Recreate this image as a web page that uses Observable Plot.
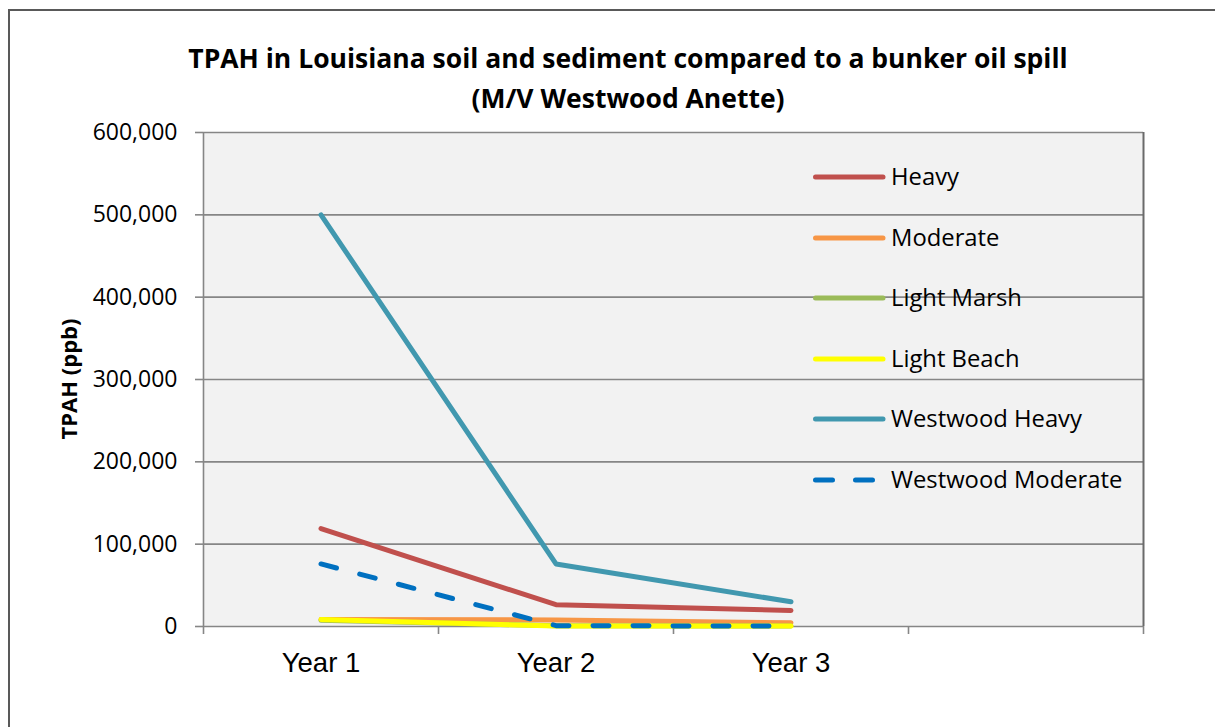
<!DOCTYPE html>
<html>
<head>
<meta charset="utf-8">
<script src="https://cdn.jsdelivr.net/npm/d3@7"></script>
<script src="https://cdn.jsdelivr.net/npm/@observablehq/plot@0.6"></script>
<style>
  html, body { margin: 0; padding: 0; background: #fff; overflow: hidden; }
  body { width: 1215px; height: 727px; position: relative; font-family: "Open Sans", sans-serif; }
  #border { position: absolute; left: 8px; top: 9px; width: 1300px; height: 800px;
            border-left: 2px solid #595959; border-top: 2px solid #595959; box-sizing: border-box; }
  #chart { position: absolute; left: 0; top: 0; }
  #title { position: absolute; left: 0; top: 38px; width: 1256px; text-align: center;
           font-weight: 700; font-size: 26.5px; line-height: 40px; color: #000; }
  #ylabel { position: absolute; left: 68px; top: 379px; transform: translate(-50%, -50%) rotate(-90deg);
            font-weight: 700; font-size: 22px; white-space: nowrap; color: #000; }
  #legend { position: absolute; left: 813px; top: 0; }
  .item { position: absolute; left: 0; height: 30px; white-space: nowrap; }
  .item svg { position: absolute; left: 0; top: 0; }
  .item span { position: absolute; left: 78px; top: 50%; transform: translateY(-50%);
               font-size: 23.8px; color: #000; line-height: 1; }
</style>
</head>
<body>
<div id="border"></div>
<div id="chart"></div>
<div id="title">TPAH in Louisiana soil and sediment compared to a bunker oil spill<br>(M/V Westwood Anette)</div>
<div id="ylabel">TPAH (ppb)</div>
<div id="legend"></div>
<script>
// ---- data ----
const years = ["Year 1", "Year 2", "Year 3"];
const categorySlots = 4; // Year 1..3 plus one empty category
const seriesNames = ["Heavy", "Moderate", "Light Marsh", "Light Beach", "Westwood Heavy", "Westwood Moderate"];
const heavy = [119000, 26500, 19500];
const moderate = [8500, 8000, 4500];
const lightMarsh = [7500, 1000, 500];
const lightBeach = [8500, 500, 500];
const westwoodHeavy = [500000, 76000, 30000];
const westwoodModerate = [76000, 1000, 500];
const seriesColors = ["#C0504D", "#F79646", "#9BBB59", "#FFFF00", "#4198AF", "#0070C0"];
const seriesDashed = [false, false, false, false, false, true];
const yTicks = [0, 100000, 200000, 300000, 400000, 500000, 600000];

const allValues = [heavy, moderate, lightMarsh, lightBeach, westwoodHeavy, westwoodModerate];
const seriesData = allValues.map((vals, si) =>
  vals.map((v, i) => ({series: seriesNames[si], pos: i + 0.5, value: v})));
const boundaries = d3.range(categorySlots + 1);
const grid = "#868686";

const lineMarks = seriesData.map((d, si) => Plot.line(d, {
  x: "pos", y: "value", stroke: seriesColors[si], strokeWidth: 5,
  strokeLinecap: "round", strokeLinejoin: "round",
  strokeDasharray: seriesDashed[si] ? "16,24" : null
}));

const chart = Plot.plot({
  width: 1215, height: 727,
  marginLeft: 203, marginRight: 72, marginTop: 132, marginBottom: 101,
  style: {background: "transparent", fontFamily: "Open Sans", color: "#000", overflow: "visible"},
  x: {domain: [0, categorySlots], label: null},
  y: {domain: [0, 600000], label: null},
  marks: [
    Plot.frame({fill: "#F2F2F2", stroke: null}),
    Plot.gridY({ticks: yTicks, stroke: grid, strokeOpacity: 1, strokeWidth: 1.6}),
    Plot.ruleX([0], {stroke: grid, strokeWidth: 1.6}),
    Plot.ruleX([categorySlots], {stroke: "#6a6a6a", strokeWidth: 2}),
    Plot.axisY({ticks: yTicks, tickSize: 8, tickPadding: 18, tickFormat: d3.format(","),
                fontSize: 23, stroke: grid, strokeWidth: 1.6, fill: "#000", label: null}),
    Plot.axisX({ticks: boundaries, tickSize: 8, tickFormat: () => "", stroke: grid,
                strokeWidth: 1.6, label: null}),
    Plot.axisX({ticks: years.map((d, i) => i + 0.5), tickSize: 0, tickPadding: 26,
                tickFormat: d => years[Math.floor(d)], fontSize: 27.5,
                fontFamily: "Liberation Sans", fill: "#000", label: null}),
    ...lineMarks
  ]
});
document.getElementById("chart").appendChild(chart);

// ---- legend ----
const legend = document.getElementById("legend");
const rowTops = [177, 238, 298, 359, 419, 480];
seriesNames.forEach((name, i) => {
  const item = document.createElement("div");
  item.className = "item";
  item.style.top = (rowTops[i] - 15) + "px";
  const dash = seriesDashed[i] ? ' stroke-dasharray="17,23"' : "";
  item.innerHTML = `<svg width="76" height="30"><line x1="2.5" x2="70" y1="15" y2="15" stroke="${seriesColors[i]}" stroke-width="5" stroke-linecap="round"${dash}/></svg><span>${name}</span>`;
  legend.appendChild(item);
});
</script>
</body>
</html>
